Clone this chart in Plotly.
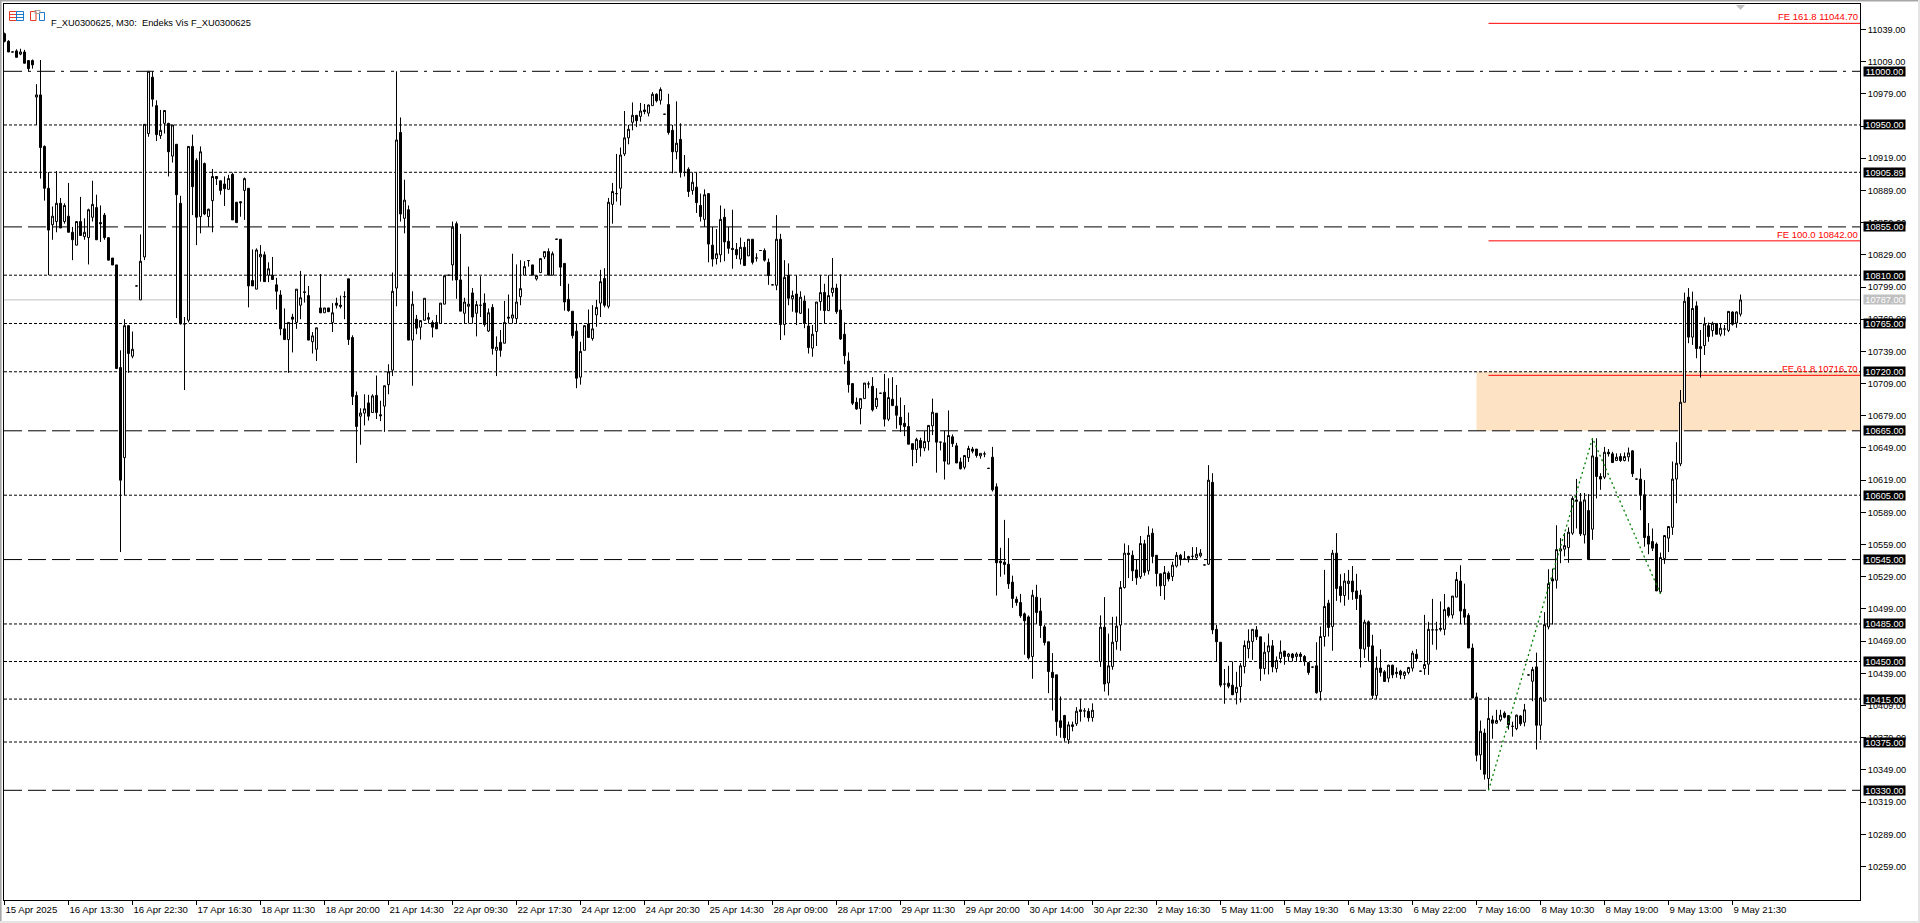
import plotly.graph_objects as go

opens = [
11035,11028,11018,11019,11016,11018,11010,11010,10976,10978,
10930,10891,10857,10860,10877,10860,10865,10850,10838,10860,
10846,10845,10864,10873,10859,10866,10845,10826,10819.6,10724,
10640,10763,10734.5,10800,10787,10827,10942,10994.5,10968,10940,
10951.5,10951.5,10921,10932,10877,10764.6,10768,10930,10917,10864.6,
10914,10864.6,10879.5,10902,10898,10895,10890,10904,10878,10878.5,
10889,10891,10805,10797,10827,10829,10810,10810,10801,10791.6,
10760,10750,10771,10766,10782,10794.5,10791,10748,10741,10779.5,
10775,10779.5,10766,10784,10782,10790,10806.6,10752,10698,10678.6,
10681.5,10691,10682,10698,10680,10688,10708,10721.5,10798,10943,
10863,10871,10749.5,10769,10761.5,10768,10770.5,10766,10766,10765,
10783,10810,10819.6,10858,10805.6,10774.5,10781,10793.5,10774.5,10782,
10784,10758,10780,10740,10747.5,10746.6,10771,10770,10769.6,10790,
10810,10823.6,10819.6,10806.5,10812.4,10827,10832,10810,10843.5,10843.5,
10821,10787.5,10776.4,10757.8,10715,10740,10764.6,10751,10773,10784,
10807,10781,10876,10886,10891,10923,10938,10952.5,10959,10958,
10964,10961,10968,10978.6,10973,10960,10969,10945,10925,10936.6,
10906,10908.7,10889,10892,10875,10862,10886,10838,10825.5,10829,
10864,10841.6,10835,10834,10825,10836,10828,10843.5,10826,10833,
10833,10822,10801,10800.6,10843.5,10764,10810,10788,10792.5,10774.5,
10786,10762.7,10742,10757.5,10785.4,10794,10777,10793.8,10798,10777.6,
10755,10730,10709,10691.6,10685.7,10695,10708.7,10706.5,10687.6,10700,
10701,10675.8,10694.4,10688,10677.6,10672,10669,10653,10647.6,10656,
10649,10655,10669.6,10681.4,10654.4,10653.8,10634,10659.4,10651,10636,
10631,10640,10648,10648,10641.6,10643.5,10630,10640.4,10612.8,10543.5,
10542.6,10540.7,10524,10508,10505,10494.4,10491.6,10454.7,10510,10497,
10482.3,10468.4,10440,10437.6,10394.8,10399.7,10377,10391,10392,10405,
10404,10403.7,10397.8,10450,10450,10482,10430,10445.4,10468.7,10484,
10519,10551,10549,10535.4,10529,10559.7,10534.5,10569.6,10549,10531.7,
10520.8,10532.3,10529.2,10539,10549,10545.6,10546,10548,10547,10548.5,
10540,10540.7,10617,10480,10468,10429,10429.8,10428,10421,10426.7,
10445.4,10462,10468.7,10479.5,10473,10443.5,10459,10464.6,10443.5,10452.8,
10459.7,10454.7,10457,10454.7,10457,10454.7,10449,10444.8,10446,10422,
10473.3,10504.4,10482.6,10551,10520,10511.5,10522.7,10525,10515.8,10511.8,
10461.5,10487,10464.6,10418.4,10444,10440.4,10434.5,10446.6,10440,10441,
10437,10439.8,10443.8,10456.8,10441,10443.5,10447.5,10479.5,10479.5,
10481,10480,10500,10493.4,10510,10525,10498.7,10493,10462.6,10417,10363,
10383.4,10341,10395.6,10392.5,10395.6,10402,10399.6,10389.6,10387.5,10399.3,
10393.4,10437.5,10431.6,10445,10390.6,10413,10482.3,10527,10525.7,10553,
10554.7,10556.2,10569.6,10600.6,10598.8,10568,10590.7,10573.3,10640.4,10622.4,
10621.8,10645,10643.5,10637.3,10641,10637.3,10640.7,10646.3,10620,10620,
10605.4,10566.8,10561.8,10559.4,10515,10546,10565,10575,10620,10634.2,
10691.6,10789.5,10752.3,10781.4,10741.6,10744.4,10763,10758.4,10765,10755,
10759.8,10758.6,10775.7,10765.5,10773.7]

highs = [
11036,11029,11018,11020.5,11021,11020,11010,11011,10988,11010.5,
10931,10906,10874,10907,10882,10877,10896,10855,10860,10883,
10863,10872,10898,10885,10875,10868,10845,10826,10819.6,10740,
10769,10763,10757.5,10800,10848,10950,11000,11000,10973,10964,
10963.5,10952,10950,10932,10884,10771,10930,10941,10919,10930,
10915,10872,10909,10902,10898,10902,10903.5,10905.5,10878,10878.5,
10901,10891,10834,10835,10838,10832,10822,10827,10807.5,10796,
10779,10766,10774,10797,10814,10810.5,10800,10757,10761,10811,
10779.5,10779.5,10784,10789,10791,10795,10806.6,10754,10701.6,10686,
10699,10698.5,10699,10716.5,10693,10707,10727,10812.5,11000,10957,
10899,10875,10795,10773,10768,10788.5,10775,10768,10773,10784,
10809.5,10810,10860,10860,10848.5,10789,10818,10798,10786,10809,
10793,10779,10783,10753,10759,10786,10792,10830,10820,10824,
10823,10823.6,10819.6,10810,10825.5,10832,10835,10832,10843.5,10843.5,
10821,10802,10776.4,10765,10748,10763,10778,10782,10787,10815,
10816.5,10882,10896,10923,10929,10963,10950,10971,10959,10970.5,
10969.5,10969,10980.5,10979.5,10985,10960,10979,10950,10972,10951.5,
10922,10910.5,10905.8,10905.8,10886,10890,10886.5,10855,10853,10875,
10872,10855,10871,10840,10845,10841,10843.5,10843.5,10830.4,10833,
10835,10825.5,10801,10866,10848.5,10824,10821,10795.6,10810,10795,
10791,10779,10763.6,10785,10810,10802,10810,10826,10802,10810.7,
10766,10738,10709,10696,10695,10709.5,10711,10715,10704.7,10700,
10718,10714,10715,10707.7,10696,10689,10682,10653,10658.5,10658.5,
10664.7,10670,10695,10681.4,10654.4,10665,10684,10661.6,10653.8,10640,
10642,10651,10650,10648,10644,10645.7,10630,10650,10616,10556,
10582,10565,10530,10510.6,10513,10495.7,10493,10516.8,10521.5,10509.3,
10484.2,10468.4,10457.8,10437.6,10417.4,10400.3,10394,10394,10407.5,10415,
10406.5,10406.5,10411,10450,10493,10510,10476,10491.6,10492,10525,
10560,10558.4,10553.4,10545,10567,10563.4,10576,10574,10549,10532,
10539,10534,10543,10552,10550.3,10552.8,10548.5,10556.6,10556.6,10554.7,
10540,10633,10625.5,10484,10468,10443,10446,10450,10440.4,10448.5,
10469.6,10480,10480,10483,10473,10468,10476,10470,10454.7,10469.6,
10460,10458,10458,10458.6,10458.7,10456,10449,10444.8,10468,10482.6,
10535.4,10507.5,10554,10569.6,10531.4,10532.3,10535.4,10539,10531.7,10516.8,
10489,10488.2,10474.9,10454.7,10461.5,10442,10447,10447,10444.4,10442.3,
10441,10445,10460,10461.5,10441,10493.5,10487,10508.4,10487,
10506,10513,10501,10511,10533.5,10539.7,10522.6,10495,10466.7,10421,10395,
10387.5,10417,10399.6,10405,10405,10403.6,10400,10394,10400.5,10400,
10410.5,10437.5,10445,10458.3,10417,10496,10536,10536.6,10577,10565,
10569.6,10575,10604,10620.2,10607,10607,10606,10658,10658,10625.5,
10650,10648,10645.4,10644,10644,10644.8,10649.4,10647,10620,10630,
10619,10579,10574,10561,10551.5,10567.4,10576,10636.4,10654.4,10703,
10793.8,10798,10794.7,10785.7,10759,10770.8,10765.8,10766.7,10765,10765,
10763.6,10776.6,10776.3,10776.3,10792]

lows = [
11027,11018,11018,11013,11015,11007.5,11000,11002.5,10950,10900,
10879.5,10810,10843,10850,10854,10858,10850,10824,10838,10847,
10843,10820,10860,10843,10841,10843,10824,10819.5,10723,10552,
10605,10719,10732.6,10800,10787,10824,10939,10967,10935,10937,
10942,10902,10915,10770,10764,10703,10766,10866,10838,10849,
10866,10855,10850,10894,10885,10874.5,10890,10861.5,10859,10864.5,
10861.5,10780,10800,10797,10804,10804,10803.5,10806,10778,10754,
10750,10719,10738,10760,10769,10784.5,10749.5,10737,10730,10774.6,
10775,10776,10757,10779,10779,10769,10745,10689,10635,10652,
10670,10674.5,10682,10676,10674,10664,10699,10716,10781,10860,
10849,10749.5,10707,10755,10750,10768,10765,10752,10760,10765,
10783,10810,10805,10788,10776.5,10765,10765,10765,10753,10771,
10762,10757,10736,10716,10734,10746.6,10765,10765,10765,10782,
10810,10818,10810,10805,10812.4,10825,10810,10810,10843.5,10800,
10777,10776,10751,10704.7,10708,10740,10752,10749,10762,10771,
10780,10779,10858,10878.6,10875,10921,10932,10945,10948,10953,
10960,10958,10968,10971,10969,10960,10941,10905,10918,10901,
10902,10883,10885,10868,10860,10855,10822,10818,10820,10822,
10823,10830,10816,10825,10820,10819,10828,10820,10822.7,10833,
10822.7,10801,10801,10796,10749.6,10754,10782,10776,10763.6,10774,
10760.6,10737,10734,10744,10777,10765,10777,10790,10774,10749.6,
10727,10700.6,10689,10684.5,10671,10695,10704.6,10683,10685.4,10700,
10669,10674,10688,10667,10664,10660,10652.5,10632,10635,10641,
10646,10646.7,10661,10626,10646.7,10619.6,10634,10650,10635,10629,
10629,10636,10644,10640,10639,10640.4,10630,10608.4,10511.5,10529,
10531,10517.7,10500,10502,10490.7,10456.3,10452,10433.9,10485,10472,
10465,10420.5,10404.4,10380.8,10379,10375.5,10373.3,10385,10390,10394,
10398,10394,10394,10450,10445,10422,10418.4,10442.3,10461,10460,
10518,10527.7,10525,10521.5,10527,10530,10531,10541.6,10520,10511,
10507.5,10524.6,10525,10537.6,10539.5,10544.8,10542.3,10545,10545,10547,
10540,10540,10475.5,10450,10426,10410.6,10425,10419,10410,10411.8,
10439,10453,10451.6,10470,10432,10438,10438,10440,10439.8,10448.5,
10447,10450,10450,10450.6,10450,10446,10437.6,10444.8,10420,10413.7,
10464,10473.3,10460,10506.5,10505,10502,10507.5,10507.5,10498,10444.4,
10453.4,10450,10415,10415,10436,10431,10430.7,10434.5,10435,10433.6,
10433.6,10438,10440.7,10450,10441,10437.6,10437.6,10465.6,10461,
10478,10474.5,10491,10490,10510,10485,10484.4,10462.6,10416,10357,10349,
10340,10330,10378,10392,10394,10397,10386.6,10380,10386,10390,
10389.6,10437.5,10413,10368,10377,10413,10480,10484.4,10518,10541.6,
10548,10542,10568,10574,10567,10560,10545,10563.4,10602,10610,
10620,10641,10635,10637,10636,10636.5,10636.4,10622,10620,10591,
10557,10550,10553,10515.8,10513.3,10541,10552,10568,10597.5,10632,
10691.6,10746.6,10745,10732.6,10714.6,10735.7,10748,10752.8,10755,10753,
10753.7,10757,10763,10761,10771.5]

closes = [
11028,11018,11018,11013,11018,11007.5,11002.5,11006,10978,10929,
10891,10852,10865,10877,10854,10875,10850,10843,10860,10847,
10850,10871,10876,10843,10858,10845,10824,10819.5,10723,10619,
10763,10737,10741,10800,10823,10950.6,11000,10974,10941,10945,
10963.5,10925,10950,10885,10764.6,10764.6,10930,10892.5,10864,10925,
10867,10871.5,10902,10900,10889,10890.5,10900,10861.5,10859,10877.5,
10900,10800,10800,10833.5,10829.5,10804,10816,10806,10795,10760,
10750,10766,10769,10797,10789,10794,10749.5,10753.5,10761,10775,
10779.5,10776,10775,10782,10781,10790,10750,10697,10669,10681.5,
10685.5,10678.6,10697.5,10682,10679,10707,10720,10795,10936,10867,
10880,10749.5,10783,10760.6,10767.7,10788.5,10769,10761.5,10760,10784,
10809.5,10810,10854.7,10805.6,10776.5,10785,10783,10771,10782.6,10782,
10764,10775,10741.6,10743,10740,10766,10770,10773,10785,10797.5,
10818,10823.6,10810,10809.6,10825.5,10832,10810,10830,10843.5,10817.5,
10785,10777,10753.7,10714,10739,10763,10752,10760,10780,10804,
10782,10878,10888,10886,10922,10938,10946,10959,10954,10963,
10962.5,10968.6,10978.6,10972.6,10983,10960,10943,10925,10933,10906,
10905.8,10888,10896.6,10877.6,10864.6,10885,10839,10825,10830,10862,
10841,10835,10834,10829,10836,10819,10843.5,10822,10826,10833,
10824,10809.6,10801,10843.5,10764,10808,10788.5,10791,10775.5,10789.5,
10765,10742.6,10755,10785,10793.8,10777,10791,10798,10776,10750.6,
10735,10708,10690.7,10685.4,10695,10709.5,10708.7,10684.5,10695.3,10700,
10675.8,10696,10688.5,10679.5,10670.5,10669,10652.5,10647.6,10657,10649,
10655,10670,10682.3,10654.4,10654.4,10636.7,10660.6,10653,10635,10629.6,
10642,10648.5,10646,10642,10644,10643.5,10630,10610,10542,10542,
10540.4,10522.4,10508.7,10505,10492.6,10488,10453.4,10511.8,10495.7,10483.6,
10467.7,10440.7,10435,10394,10388.5,10378.9,10391,10389.5,10403.7,10403.4,
10404,10397.5,10404.6,10450,10482,10429,10446,10468,10483,10519,
10551,10549.7,10534.5,10528,10560,10533,10567.7,10547.9,10532,10520.5,
10533,10527,10539.8,10549,10545,10545.6,10547.9,10548,10550,10551,
10540,10619,10479.5,10468.4,10428,10429,10427,10419,10426,10446,
10465,10469,10480,10473,10443.5,10458.7,10464.6,10445,10451,10458.7,
10454.7,10457,10453.6,10457,10454.7,10450,10439.8,10444.8,10421,10473.3,
10501.3,10481.7,10551,10518,10511.5,10525,10524.9,10515,10508.7,10462,
10486.7,10464,10418.4,10443.8,10439.8,10431.4,10446.6,10437.6,10438.9,10437.6,
10440,10444.4,10457.8,10452.8,10441,10447.2,10480,10479.5,10479.5,
10480,10498.4,10493,10511,10526.4,10497,10491.3,10462.6,10416,10362.6,10385,
10345,10397,10392.5,10395,10400,10398,10391,10389.6,10400,10392,
10405,10437.5,10442.5,10390.6,10416,10484.4,10522.6,10525,10554.3,10555,
10558,10570.5,10602,10599.4,10569,10600.6,10545,10641.6,10622.4,10620,
10645,10643.5,10635.4,10640.4,10637.3,10641,10644.4,10625,10620,10605.4,
10565.5,10559.4,10555.6,10515.8,10546.9,10567.4,10575.8,10620,10634.8,10691.6,
10785.7,10752.3,10779,10741.6,10743.5,10764.6,10752.8,10765.2,10755,10760.6,
10759.8,10776.3,10764.2,10775.7,10787]

assert len(opens) == len(highs) == len(lows) == len(closes) == 435, (len(opens), len(highs), len(lows), len(closes))

time_labels = ["15 Apr 2025","16 Apr 13:30","16 Apr 22:30","17 Apr 16:30","18 Apr 11:30","18 Apr 20:00",
"21 Apr 14:30","22 Apr 09:30","22 Apr 17:30","24 Apr 12:00","24 Apr 20:30","25 Apr 14:30","28 Apr 09:00",
"28 Apr 17:00","29 Apr 11:30","29 Apr 20:00","30 Apr 14:00","30 Apr 22:30","2 May 16:30","5 May 11:00",
"5 May 19:30","6 May 13:30","6 May 22:00","7 May 16:00","8 May 10:30","8 May 19:00","9 May 13:00","9 May 21:30"]
price_ticks = [11039,11009,10979,10949,10919,10889,10859,10829,10799,10769,10739,10709,10679,10649,10619,
10589,10559,10529,10499,10469,10439,10409,10379,10349,10319,10289,10259]
hidden_ticks = [10949]
dash_levels = [10950,10905.89,10810,10765,10720,10605,10485,10450,10415,10375]
long_levels = [10855,10665,10545,10330]
dashdot_levels = [11000]
current_price = 10787
zone_low, zone_high = 10665, 10720
fe_levels = [(11044.70,"FE 161.8 11044.70"),(10842.00,"FE 100.0 10842.00"),(10716.70,"FE 61.8 10716.70")]
swing_i = [371,397,414]
swing_p = [10330,10658,10513]
title_text = "F_XU0300625, M30:  Endeks Vis F_XU0300625"

W,H = 1920,923
L,R,T,B = 4,1860,4,900
FONT = "Liberation Sans, sans-serif"
xmin = (L-4.5)/4
xmax = (R-4.5)/4
ymax = 11000+(71.3-T)/1.07313
ymin = 11000-(B-71.3)/1.07313

def px(x): return (x-L)/(R-L)
def py(y): return 1-(y-T)/(B-T)

shapes = []
annots = []
def rect(x0,y0,x1,y1,line=None,fill=None,w=1):
    shapes.append(dict(type="rect",xref="paper",yref="paper",x0=px(x0),y0=py(y0),x1=px(x1),y1=py(y1),
                       line=dict(color=line or "rgba(0,0,0,0)",width=w if line else 0),fillcolor=fill or "rgba(0,0,0,0)",layer="above"))
def seg(x0,y0,x1,y1,c):
    shapes.append(dict(type="line",xref="paper",yref="paper",x0=px(x0),y0=py(y0),x1=px(x1),y1=py(y1),line=dict(color=c,width=1),layer="above"))

# window frame
rect(0,0,1920,1.6,fill="#A6A6A6")
rect(0,0,1.6,923,fill="#A6A6A6")
rect(1918,0,1920,923,fill="#E4E4E4")
rect(0,921,1920,923,fill="#E4E4E4")
# title icons
rect(9.5,11.5,16.5,20.5,line="#E8392B")
rect(16.5,11.5,23.5,20.5,line="#1E78C8")
for yy in (14.5,17.5):
    seg(10,yy,16,yy,"#E8392B"); seg(17,yy,23,yy,"#1E78C8")
rect(30.5,11.5,36,20.5,line="#E8392B")
rect(39.5,12.5,44.5,20.5,line="#1E78C8")
rect(35,10.5,40,13.5,line="#A0A0A0")
# chart-shift marker
shapes.append(dict(type="path",xref="paper",yref="paper",
    path=f"M {px(1736)} {py(5)} L {px(1745)} {py(5)} L {px(1740.5)} {py(10)} Z",
    fillcolor="#C0C0C0",line=dict(width=0),layer="above"))

# zone
shapes.append(dict(type="rect",xref="x",yref="y",x0=368,x1=xmax,y0=zone_low,y1=zone_high,
                   fillcolor="#FDE3C4",line=dict(width=0),layer="below"))
def hline(v,x0,dash,color="black"):
    shapes.append(dict(type="line",xref="x",yref="y",x0=x0,x1=xmax,y0=v,y1=v,
                       line=dict(color=color,width=1,dash=dash),layer="below"))
for v in dash_levels: hline(v,xmin,"3px,2px")
for v in long_levels: hline(v,xmin,"18px,6px")
for v in dashdot_levels: hline(v,xmin,"18px,6px,3px,6px")
hline(current_price,xmin,"solid","#C0C0C0")
for v,t in fe_levels:
    hline(v,swing_i[0],"solid","#FF0000")
    annots.append(dict(x=px(1859.5),xref="paper",y=v,yref="y",yshift=6.5,text=t,showarrow=False,xanchor="right",
                       font=dict(family=FONT,size=9.5,color="#FF0000")))

def level_label(v,txt,bg):
    annots.append(dict(x=px(1863),xref="paper",y=v,yref="y",text=txt,showarrow=False,xanchor="left",align="center",
                       width=41,height=9,bgcolor=bg,borderpad=0,font=dict(family=FONT,size=9.2,color="white")))
for v in sorted(dash_levels+long_levels+dashdot_levels):
    level_label(v,f"{v:.2f}","black")
level_label(current_price,f"{current_price:.2f}","#C0C0C0")

annots.append(dict(x=px(48.5),xref="paper",y=py(15.7),yref="paper",text=title_text,showarrow=False,xanchor="left",
                   font=dict(family=FONT,size=9.3,color="black")))

fig = go.Figure()
fig.add_trace(go.Candlestick(x=list(range(len(opens))),open=opens,high=highs,low=lows,close=closes,
    increasing=dict(line=dict(color="black",width=1),fillcolor="white"),
    decreasing=dict(line=dict(color="black",width=1),fillcolor="black"),
    whiskerwidth=0,hoverinfo="skip",showlegend=False))
fig.add_trace(go.Scatter(x=swing_i,y=swing_p,mode="lines",line=dict(color="#008000",width=1.3,dash="2px,3px"),
    hoverinfo="skip",showlegend=False))

fig.update_layout(width=W,height=H,margin=dict(l=L,r=W-R,t=T,b=H-B,autoexpand=False),
    paper_bgcolor="white",plot_bgcolor="white",shapes=shapes,annotations=annots,showlegend=False,
    font=dict(family=FONT,size=9.3,color="black"),
    xaxis=dict(range=[xmin,xmax],type="linear",rangeslider=dict(visible=False),showgrid=False,zeroline=False,
        tickmode="array",tickvals=[16*k for k in range(len(time_labels))],ticktext=time_labels,
        tickfont=dict(family=FONT,size=9.6,color="black"),
        ticks="outside",ticklen=4,tickwidth=1,tickcolor="black",ticklabelposition="outside right",
        showline=True,linecolor="black",linewidth=1,mirror=True,tickangle=0),
    yaxis=dict(range=[ymin,ymax],side="right",showgrid=False,zeroline=False,
        tickmode="array",tickvals=price_ticks,
        ticktext=["" if v in hidden_ticks else f"{v:.2f}" for v in price_ticks],
        tickfont=dict(family=FONT,size=9.2,color="black"),
        ticks="outside",ticklen=5,tickwidth=1,tickcolor="black",
        showline=True,linecolor="black",linewidth=1,mirror=True))

fig.write_html("out.html",config=dict(displayModeBar=False,responsive=False),
    post_script="document.body.style.margin='0';document.body.style.overflow='hidden';")
